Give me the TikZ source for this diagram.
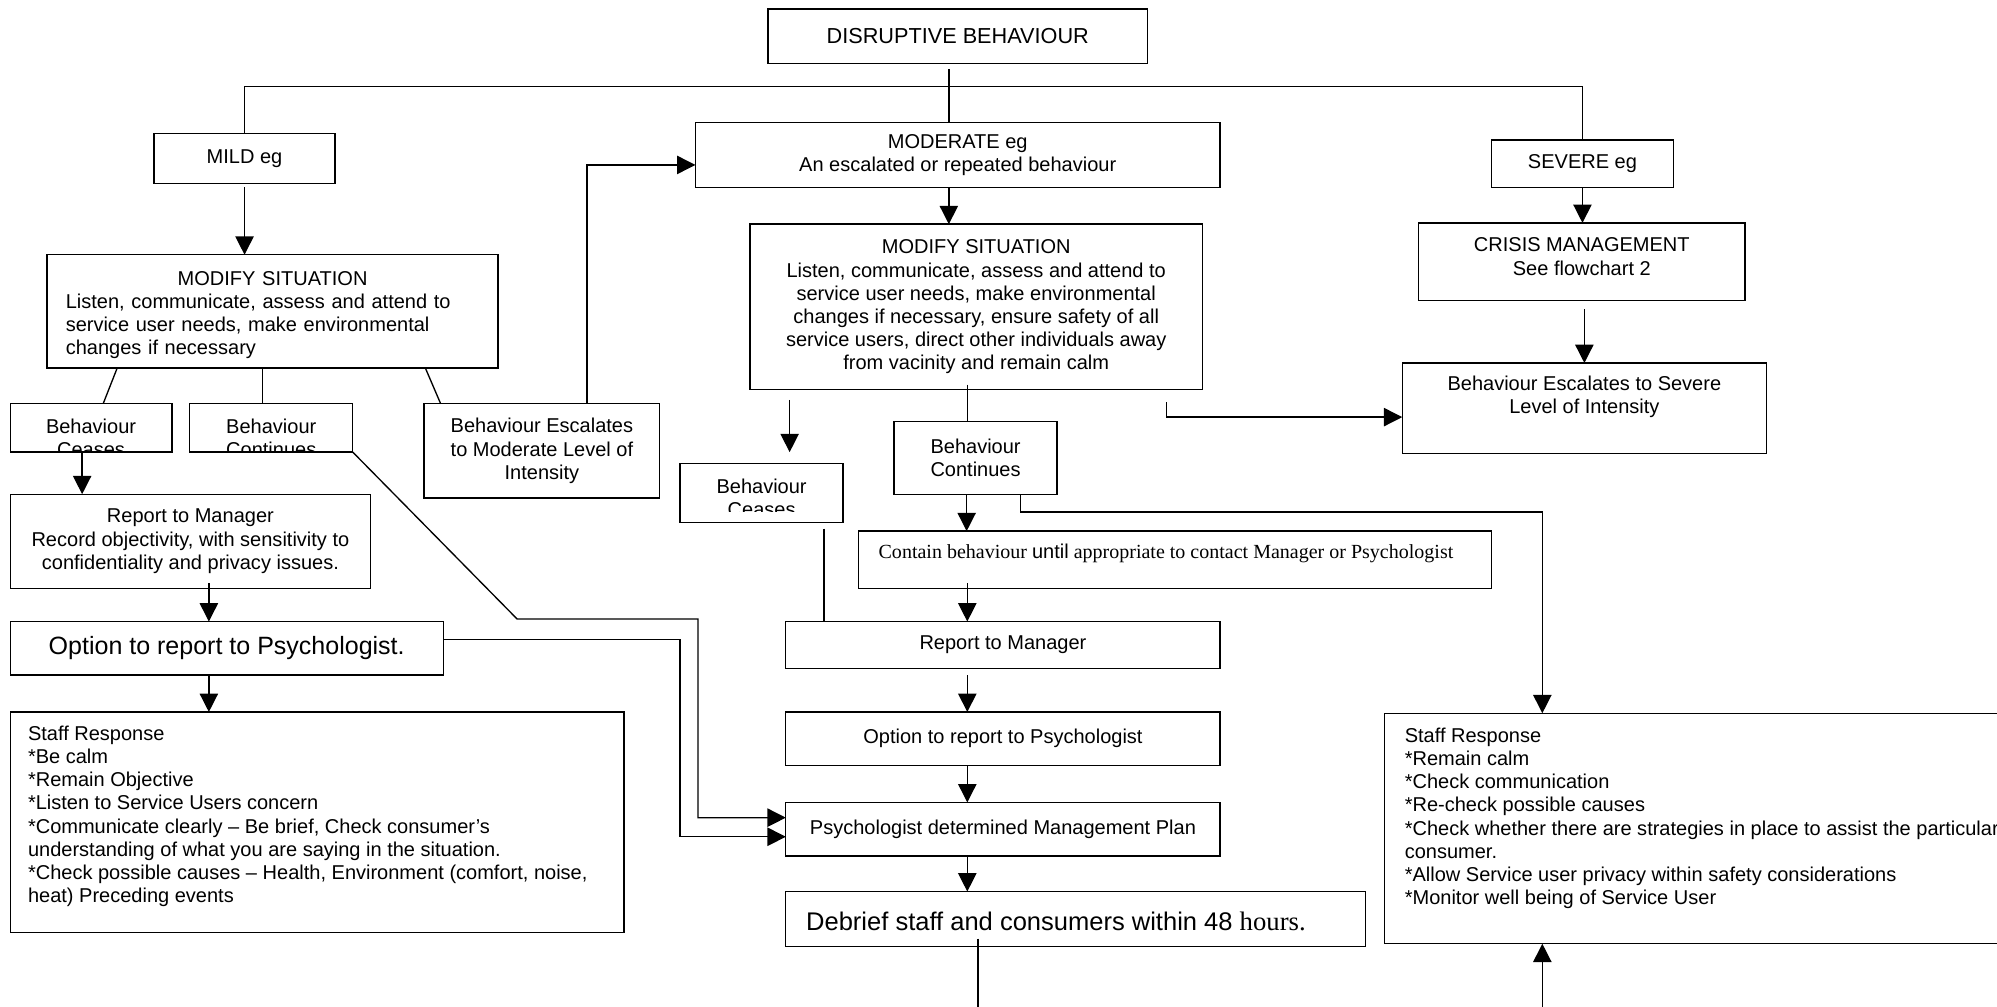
\documentclass[tikz,border=0pt]{standalone}
\usepackage{fontspec}
\setmainfont{Liberation Sans}
\newfontfamily\timesfont{Liberation Serif}
\usepackage{tikz}
\usetikzlibrary{arrows.meta, calc}

\newdimen\pxu
\pxu=0.02684cm
\newcommand{\normsize}{\fontsize{12}{13.9}\selectfont}
\newcommand{\bigsize}{\fontsize{15}{17}\selectfont}

\begin{document}
\begin{tikzpicture}[x=\pxu, y=-\pxu,
    box/.style={draw, line width=0.8pt, inner sep=0pt, outer sep=0pt, align=center, font=\normsize},
    txt/.style={inner sep=0pt, outer sep=0pt, align=center, font=\normsize},
    link/.style={line width=0.8pt},
    arr/.style={line width=0.8pt, -{Triangle[length=11pt, width=11pt]}}]

    \useasboundingbox (0,0) rectangle (1568,790);
    \clip (0,0) rectangle (1568,790);
    \coordinate (bottomEdge) at (0,800);

    %% --- Top level ---
    \node[box, font=\fontsize{13}{15}\selectfont, minimum width=298\pxu, minimum height=43\pxu] (disrupt) at (752,28.5) {DISRUPTIVE BEHAVIOUR};
    \node[box, minimum width=142\pxu, minimum height=39\pxu] (mild) at (192,124.5) {MILD eg};
    \node[box, minimum width=412\pxu, minimum height=51\pxu] (moderate) at (752,121.5) {MODERATE eg\\An escalated or repeated behaviour};
    \node[box, minimum width=143\pxu, minimum height=37\pxu] (severe) at (1242.5,128.5) {SEVERE eg};

    \coordinate (spine) at (745,68);
    \draw[link] ($(disrupt.south)+(-7,4)$) -- (spine |- moderate.north);
    \draw[link] (mild.north) |- (spine) -| (severe.north);

    %% --- Mild branch ---
    \node[box, minimum width=354\pxu, minimum height=89\pxu] (modA) at (214,244.5) {};
    \node[txt, text width=248pt, align=left] (modAT) at ($(modA.center)+(0,3)$)
        {\noindent\makebox[248pt]{MODIFY SITUATION}\\
         Listen, communicate, assess and attend to\\
         service user needs, make environmental\\
         changes if necessary};
    \draw[arr] ($(mild.south)+(0,3)$) -- (mild.south |- modA.north);

    \node[box, minimum width=127\pxu, minimum height=38\pxu] (ceasesA) at (71.5,336) {};
    \node[box, minimum width=128\pxu, minimum height=38\pxu] (contA) at (213,336) {};
    \begin{scope}
        \clip (ceasesA.north west) rectangle (contA.south east);
        \node[txt, anchor=north] (ceasesAT) at ($(ceasesA.north)+(0,12)$) {Behaviour\\Ceases};
        \node[txt, anchor=north] (contAT) at ($(contA.north)+(0,12)$) {Behaviour\\Continues};
    \end{scope}
    \node[box, minimum width=185\pxu, minimum height=74\pxu] (escA) at (425.5,354) {Behaviour Escalates\\to Moderate Level of\\Intensity};

    \draw[link] ($(modA.south west)+(55,0)$) -- ($(ceasesA.north west)+(73,0)$);
    \draw[link] ($(modA.south)+(-8,0)$) -- ($(contA.north)+(-7,0)$);
    \draw[link] ($(modA.south east)+(-57,0)$) -- ($(escA.north west)+(13,0)$);
    \draw[arr] ($(escA.north west)+(128,0)$) |- ($(moderate.west)+(0,8)$);

    \node[box, minimum width=283\pxu, minimum height=74\pxu] (repA) at (149.5,425)
        {Report to Manager\\Record objectivity, with sensitivity to\\confidentiality and privacy issues.};
    \node[box, font=\bigsize, minimum width=340\pxu, minimum height=42\pxu] (optA) at (178,509) {Option to report to Psychologist.};
    \node[box, minimum width=482\pxu, minimum height=173\pxu] (staffA) at (249,645.5) {};
    \node[txt, align=left, anchor=north west] (staffAT) at ($(staffA.north west)+(14,11)$)
        {Staff Response\\
         *Be calm\\
         *Remain Objective\\
         *Listen to Service Users concern\\
         *Communicate clearly – Be brief, Check consumer’s\\
         understanding of what you are saying in the situation.\\
         *Check possible causes – Health, Environment (comfort, noise,\\
         heat) Preceding events};

    \coordinate (cA) at ($(ceasesA.south)+(-7,0)$);
    \draw[arr] (cA) -- (cA |- repA.north);
    \coordinate (rA) at ($(repA.south)+(14.5,-4)$);
    \draw[arr] (rA) -- (rA |- optA.north);
    \draw[arr] (rA |- optA.south) -- (rA |- staffA.north);

    %% --- Moderate branch ---
    \node[box, minimum width=355\pxu, minimum height=130\pxu] (modB) at (766.5,241)
        {MODIFY SITUATION\\
         Listen, communicate, assess and attend to\\
         service user needs, make environmental\\
         changes if necessary, ensure safety of all\\
         service users, direct other individuals away\\
         from vacinity and remain calm};
    \draw[arr] (spine |- moderate.south) -- (spine |- modB.north);

    \node[box, minimum width=128\pxu, minimum height=46\pxu] (ceasesB) at (598,387) {};
    \begin{scope}
        \clip (ceasesB.north west) rectangle ($(ceasesB.south east)+(0,-8)$);
        \node[txt, anchor=north] (ceasesBT) at ($(ceasesB.north)+(0,12)$) {Behaviour\\Ceases};
    \end{scope}
    \node[box, minimum width=128\pxu, minimum height=57\pxu] (contB) at (766,359.5) {Behaviour\\Continues};

    \draw[arr] ($(modB.south west)+(31,8)$) -- ($(ceasesB.north west)+(86,-9)$);
    \coordinate (mB) at ($(modB.south)+(-7,-4)$);
    \draw[link] (mB) -- (mB |- contB.north);

    \node[box, minimum width=497\pxu, minimum height=45\pxu] (contain) at (922.5,439.5) {};
    \node[txt, font=\timesfont\fontsize{12}{14}\selectfont] (containT) at ($(contain.center)+(-7,-5)$)
        {Contain behaviour {\normalfont\normsize until} appropriate to contact Manager or Psychologist};

    \node[box, minimum width=341\pxu, minimum height=37\pxu] (repB) at (787.5,506.5) {Report to Manager};
    \node[box, minimum width=341\pxu, minimum height=42\pxu] (optB) at (787.5,580) {Option to report to Psychologist};
    \node[box, minimum width=341\pxu, minimum height=42\pxu] (psych) at (787.5,651) {Psychologist determined Management Plan};
    \node[box, minimum width=455\pxu, minimum height=43\pxu] (debrief) at (844.5,721.5) {};
    \node[txt, font=\fontsize{15.3}{17}\selectfont, anchor=west] (debriefT) at ($(debrief.west)+(16,2)$)
        {Debrief staff and consumers within 48 {\timesfont\fontsize{16}{18}\selectfont hours.}};

    \coordinate (cS) at ($(ceasesB.south)+(49,5)$);
    \draw[link] (cS) -- (cS |- repB.north);
    \coordinate (cB) at ($(contB.south)+(-7,0)$);
    \draw[arr] (cB) -- (cB |- contain.north);
    \coordinate (cC) at ($(contain.south)+(-163,-4)$);
    \draw[arr] (cC) -- (cC |- repB.north);
    \coordinate (rB) at ($(repB.south)+(-28,5)$);
    \draw[arr] (rB) -- (rB |- optB.north);
    \draw[arr] (rB |- optB.south) -- (rB |- psych.north);
    \draw[arr] (rB |- psych.south) -- (rB |- debrief.north);
    \coordinate (dOut) at ($(debrief.south west)+(151,-6)$);
    \draw[link] (dOut) -- (dOut |- bottomEdge);

    %% --- Mild links into the plan ---
    \draw[arr] (contA.south east) -- ++(129,131) -- ++(142,0) |- ($(psych.west)+(0,-9)$);
    \draw[arr] ($(optA.east)+(0,-7)$) -- ++(186,0) |- ($(psych.west)+(0,6)$);

    %% --- Severe branch ---
    \node[box, minimum width=256\pxu, minimum height=61\pxu] (crisis) at (1242,205.5) {};
    \node[txt] (crisisT) at ($(crisis.center)+(0,-4)$) {CRISIS MANAGEMENT\\See flowchart 2};
    \node[box, minimum width=286\pxu, minimum height=71\pxu] (sevEsc) at (1244,320.5) {};
    \node[txt] (sevEscT) at ($(sevEsc.center)+(0,-9)$) {Behaviour Escalates to Severe\\Level of Intensity};

    \draw[arr] (severe.south) -- (severe.south |- crisis.north);
    \coordinate (cM) at ($(crisis.south)+(2,7)$);
    \draw[arr] (cM) -- (cM |- sevEsc.north);
    \draw[arr] ($(modB.south east)+(-28,10)$) |- ($(sevEsc.west)+(0,7)$);

    \node[box, minimum width=553\pxu, minimum height=181\pxu] (staffB) at (1363.5,650.5) {};
    \node[txt, align=left, anchor=north west] (staffBT) at ($(staffB.north west)+(16,11.5)$)
        {Staff Response\\
         *Remain calm\\
         *Check communication\\
         *Re-check possible causes\\
         *Check whether there are strategies in place to assist the particular\\
         consumer.\\
         *Allow Service user privacy within safety considerations\\
         *Monitor well being of Service User};

    \draw[arr] ($(contB.south east)+(-29,0)$) |- ($(staffB.north west)+(124,-158)$) -- ($(staffB.north west)+(124,0)$);
    \coordinate (sB) at ($(staffB.south west)+(124,0)$);
    \draw[arr] (sB |- bottomEdge) -- (sB);

\end{tikzpicture}
\end{document}
